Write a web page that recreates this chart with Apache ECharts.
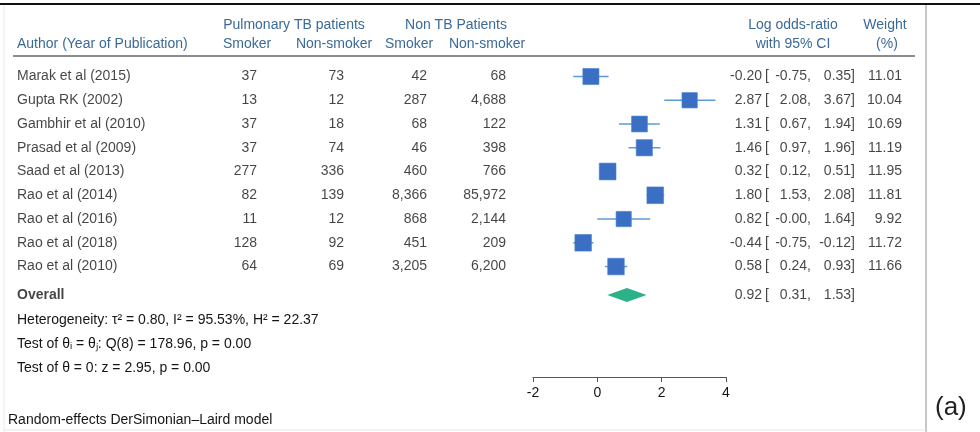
<!DOCTYPE html>
<html><head><meta charset="utf-8">
<script src="https://cdn.jsdelivr.net/npm/echarts@6/dist/echarts.min.js"></script>
<style>html,body{margin:0;padding:0;background:#fff}#c{width:980px;height:432px}</style>
</head><body><div id="c"></div>
<script>
const studies = ['Marak et al (2015)','Gupta RK (2002)','Gambhir et al (2010)','Prasad et al (2009)','Saad et al (2013)','Rao et al (2014)','Rao et al (2016)','Rao et al (2018)','Rao et al (2010)'];
const ptbSmoker = [37,13,37,37,277,82,11,128,64];
const ptbNonSmoker = [73,12,18,74,336,139,12,92,69];
const nonTbSmoker = [42,287,68,46,460,8366,868,451,3205];
const nonTbNonSmoker = [68,4688,122,398,766,85972,2144,209,6200];
const logOR = [-0.20,2.87,1.31,1.46,0.32,1.80,0.82,-0.44,0.58];
const ciLow = [-0.75,2.08,0.67,0.97,0.12,1.53,-0.00,-0.75,0.24];
const ciHigh = [0.35,3.67,1.94,1.96,0.51,2.08,1.64,-0.12,0.93];
const weights = [11.01,10.04,10.69,11.19,11.95,11.81,9.92,11.72,11.66];
const overallEst = 0.92, overallLow = 0.31, overallHigh = 1.53;
const xTicks = [-2, 0, 2, 4];
const overallRow = 9.2;

const FONT = '"Liberation Sans", Arial, Helvetica, sans-serif';
const FS = 14;
const TXT = '#151515', HDR = '#3b6a97';
const f2 = v => ((v < 0 || Object.is(v, -0)) ? '-' : '') + Math.abs(v).toFixed(2);
const fmtN = v => v.toLocaleString('en-US');

function col(x, texts, rows, align, extra) {
  return {
    type: 'scatter', xAxisIndex: 1, yAxisIndex: 1, symbolSize: 0, silent: true,
    data: texts.map((t, i) => ({ value: [x, rows[i]], name: t })),
    label: Object.assign({ show: true, formatter: '{b}', position: align === 'right' ? 'left' : 'right',
      distance: 0, color: TXT, fontSize: FS, fontFamily: FONT }, extra || {})
  };
}
const rows = studies.map((s, i) => i);
const allRows = rows.concat([overallRow]);

const chart = echarts.init(document.getElementById('c'), null, { renderer: 'canvas' });
const gTop = 76.5, gH = 300.5;
const yAx = { type: 'value', min: 0, max: 12.65, inverse: true, show: false };

const ciData = logOR.map((v, i) => [ciLow[i], ciHigh[i], i]);
const boxData = logOR.map((v, i) => [v, i, weights[i]]);

const hdr = (text, x, y, align, extra) => ({ type: 'text', silent: true, style: Object.assign({ text, x, y, align: align || 'center', verticalAlign: 'middle', fill: HDR, font: FS + 'px ' + FONT }, extra || {}) });
const plain = (text, x, y, extra) => ({ type: 'text', silent: true, style: Object.assign({ text, x, y, align: 'left', verticalAlign: 'middle', fill: TXT, font: FS + 'px ' + FONT }, extra || {}) });

chart.setOption({
  animation: false,
  grid: [
    { left: 533, width: 193, top: gTop, height: gH },
    { left: 0, right: 0, top: gTop, height: gH }
  ],
  xAxis: [
    { type: 'value', gridIndex: 0, min: -2, max: 4, interval: 2, position: 'bottom',
      splitLine: { show: false },
      axisLine: { show: true, onZero: false, lineStyle: { color: '#555', width: 1 } },
      axisTick: { show: true, inside: false, length: 5, lineStyle: { color: '#555' } },
      axisLabel: { color: TXT, fontSize: FS, fontFamily: FONT, margin: 9,
        formatter: v => xTicks.indexOf(v) >= 0 ? String(v) : '' } },
    { type: 'value', gridIndex: 1, min: 0, max: 980, show: false }
  ],
  yAxis: [Object.assign({ gridIndex: 0 }, yAx), Object.assign({ gridIndex: 1 }, yAx)],
  series: [
    { type: 'custom', xAxisIndex: 0, yAxisIndex: 0, silent: true, data: ciData,
      renderItem: (p, api) => {
        const a = api.coord([api.value(0), api.value(2)]);
        const b = api.coord([api.value(1), api.value(2)]);
        return { type: 'line', shape: { x1: a[0], y1: a[1], x2: b[0], y2: b[1] }, style: { stroke: '#5b9bd8', lineWidth: 1.5 } };
      } },
    { type: 'scatter', xAxisIndex: 0, yAxisIndex: 0, silent: true, data: boxData, symbol: 'rect',
      symbolSize: v => 4.85 * Math.sqrt(v[2]),
      itemStyle: { color: '#3a6fc3', opacity: 1, borderColor: '#4a82d0', borderWidth: 0.6 } },
    { type: 'custom', xAxisIndex: 0, yAxisIndex: 0, silent: true, data: [[overallEst, overallLow, overallHigh, overallRow]],
      renderItem: (p, api) => {
        const r = api.value(3);
        const c = api.coord([api.value(0), r]);
        const l = api.coord([api.value(1), r]);
        const h = api.coord([api.value(2), r]);
        return { type: 'polygon', shape: { points: [[l[0], c[1]], [c[0], c[1] - 7], [h[0], c[1]], [c[0], c[1] + 7]] }, style: { fill: '#2bb287' } };
      } },
    col(17, studies, rows, 'left'),
    col(17, ['Overall'], [overallRow], 'left', { fontWeight: 'bold' }),
    col(257, ptbSmoker.map(fmtN), rows, 'right'),
    col(344, ptbNonSmoker.map(fmtN), rows, 'right'),
    col(427, nonTbSmoker.map(fmtN), rows, 'right'),
    col(506, nonTbNonSmoker.map(fmtN), rows, 'right'),
    col(762, logOR.concat([overallEst]).map(f2), allRows, 'right'),
    col(765, allRows.map(() => '['), allRows, 'left'),
    col(811, ciLow.concat([overallLow]).map(v => f2(v) + ','), allRows, 'right'),
    col(855, ciHigh.concat([overallHigh]).map(v => f2(v) + ']'), allRows, 'right'),
    col(902, weights.map(v => v.toFixed(2)), rows, 'right')
  ],
  graphic: [
    { type: 'line', silent: true, shape: { x1: 0, y1: 4, x2: 980, y2: 4 }, style: { stroke: '#111', lineWidth: 2 } },
    { type: 'line', silent: true, shape: { x1: 926, y1: 5, x2: 926, y2: 432 }, style: { stroke: '#b5b5b5', lineWidth: 1.5 } },
    { type: 'line', silent: true, shape: { x1: 4, y1: 5, x2: 4, y2: 432 }, style: { stroke: '#ececec', lineWidth: 1 } },
    { type: 'line', silent: true, shape: { x1: 4, y1: 430, x2: 926, y2: 430 }, style: { stroke: '#e6e6e6', lineWidth: 1 } },
    { type: 'line', silent: true, shape: { x1: 13, y1: 56, x2: 915, y2: 56 }, style: { stroke: '#666', lineWidth: 1.5 } },
    hdr('Pulmonary TB patients', 294, 25),
    hdr('Non TB Patients', 456, 25),
    hdr('Author (Year of Publication)', 17, 44, 'left'),
    hdr('Smoker', 247, 44),
    hdr('Non-smoker', 334, 44),
    hdr('Smoker', 409, 44),
    hdr('Non-smoker', 487, 44),
    hdr('Log odds-ratio', 793, 25),
    hdr('with 95% CI', 793, 44),
    hdr('Weight', 885, 25),
    hdr('(%)', 887, 44),
    plain('Heterogeneity: τ² = 0.80, I² = 95.53%, H² = 22.37', 17, 320),
    plain('Test of θᵢ = θⱼ: Q(8) = 178.96, p = 0.00', 17, 344),
    plain('Test of θ = 0: z = 2.95, p = 0.00', 17, 368),
    plain('Random-effects DerSimonian–Laird model', 8, 420),
    plain('(a)', 935, 408, { font: '26px ' + FONT, fill: '#222' })
  ]
});
</script></body></html>
